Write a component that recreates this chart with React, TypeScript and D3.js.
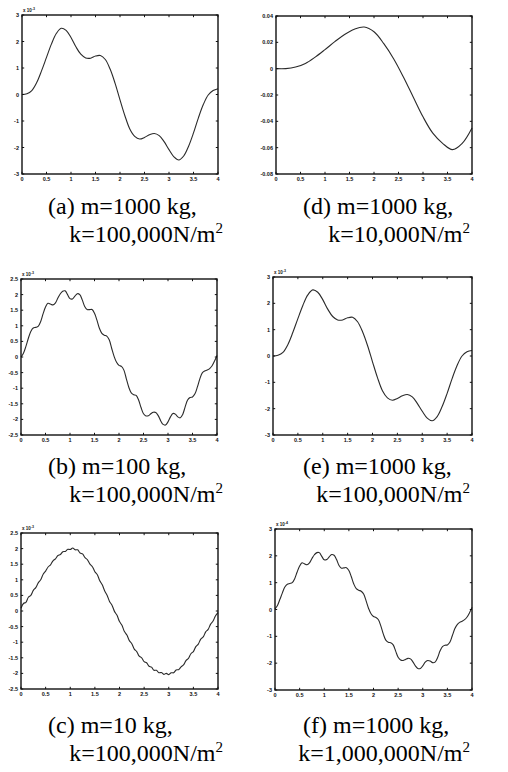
import React from 'react';
import * as d3 from 'd3';

// time axis, same for every panel
const xTicks = [0, 0.5, 1, 1.5, 2, 2.5, 3, 3.5, 4];
const xTickLabels = ['0', '0.5', '1', '1.5', '2', '2.5', '3', '3.5', '4'];

// y tick sets
const ticks3 = [3, 2, 1, 0, -1, -2, -3];
const ticks3Labels = ['3', '2', '1', '0', '-1', '-2', '-3'];
const ticks25 = [2.5, 2, 1.5, 1, 0.5, 0, -0.5, -1, -1.5, -2, -2.5];
const ticks25Labels = ['2.5', '2', '1.5', '1', '0.5', '0', '-0.5', '-1', '-1.5', '-2', '-2.5'];
const ticks004 = [0.04, 0.02, 0, -0.02, -0.04, -0.06, -0.08];
const ticks004Labels = ['0.04', '0.02', '0', '-0.02', '-0.04', '-0.06', '-0.08'];

// sample times
const t01 = d3.range(41).map(i => i * 0.1);
const t02 = d3.range(21).map(i => i * 0.2);
const t005 = d3.range(81).map(i => i * 0.05);

// (a) m=1000, k=100,000  (x1e-3), step 0.1
const respA = [
  0.00, 0.03, 0.15, 0.45, 0.90, 1.40, 1.90, 2.30, 2.50, 2.42,
  2.15, 1.80, 1.52, 1.38, 1.37, 1.45, 1.47, 1.32, 0.95, 0.42,
  -0.20, -0.80, -1.30, -1.58, -1.68, -1.62, -1.52, -1.47, -1.55, -1.78,
  -2.08, -2.35, -2.47, -2.32, -1.95, -1.45, -0.88, -0.38, -0.02, 0.15,
  0.22,
];

// (d) m=1000, k=10,000, step 0.2
const respD = [
  0, 0, 0.0012, 0.004, 0.0088, 0.0145, 0.0205, 0.026, 0.030, 0.0316,
  0.028, 0.019, 0.0076, -0.0063, -0.0215, -0.0366, -0.049, -0.0567, -0.0615, -0.0567,
  -0.045,
];

// (b) m=100, k=100,000 (x1e-3), step 0.05
const respB = [
  0.00, 0.12, 0.34, 0.60, 0.82, 0.93, 0.95, 0.98, 1.13, 1.38,
  1.60, 1.72, 1.70, 1.67, 1.73, 1.88, 2.02, 2.11, 2.12, 2.00,
  1.87, 1.86, 1.95, 2.03, 2.00, 1.83, 1.62, 1.52, 1.52, 1.52,
  1.40, 1.18, 0.92, 0.76, 0.70, 0.67, 0.55, 0.28, 0.02, -0.17,
  -0.27, -0.30, -0.42, -0.70, -0.97, -1.15, -1.21, -1.23, -1.38, -1.62,
  -1.82, -1.89, -1.88, -1.82, -1.77, -1.78, -1.88, -2.04, -2.16, -2.18,
  -2.08, -1.92, -1.81, -1.83, -1.92, -1.95, -1.84, -1.60, -1.38, -1.30,
  -1.28, -1.18, -0.96, -0.70, -0.51, -0.45, -0.42, -0.37, -0.28, -0.13,
  0.05,
];

// (e) m=1000, k=100,000 (x1e-3), step 0.1
const respE = [
  0.00, 0.03, 0.14, 0.44, 0.90, 1.42, 1.92, 2.32, 2.51, 2.42,
  2.14, 1.78, 1.50, 1.37, 1.37, 1.45, 1.47, 1.30, 0.92, 0.40,
  -0.22, -0.82, -1.32, -1.59, -1.68, -1.61, -1.51, -1.46, -1.55, -1.80,
  -2.10, -2.36, -2.46, -2.30, -1.92, -1.42, -0.86, -0.36, 0.00, 0.16,
  0.21,
];

// (c) m=10, k=100,000 (x1e-3), step 0.05
const respC = [
  0.09, 0.24, 0.28, 0.44, 0.50, 0.66, 0.75, 0.90, 1.00, 1.18,
  1.28, 1.41, 1.48, 1.61, 1.67, 1.78, 1.81, 1.90, 1.91, 1.98,
  1.97, 2.02, 1.96, 1.96, 1.86, 1.83, 1.71, 1.64, 1.50, 1.42,
  1.26, 1.16, 0.97, 0.84, 0.64, 0.50, 0.30, 0.18, -0.02, -0.14,
  -0.34, -0.46, -0.66, -0.77, -0.95, -1.05, -1.22, -1.30, -1.45, -1.50,
  -1.62, -1.66, -1.77, -1.80, -1.90, -1.90, -1.98, -1.97, -2.03, -2.00,
  -2.04, -1.98, -1.98, -1.89, -1.88, -1.79, -1.73, -1.59, -1.52, -1.37,
  -1.30, -1.14, -1.06, -0.90, -0.83, -0.67, -0.59, -0.42, -0.32, -0.15,
  -0.05,
];

// (f) m=1000, k=1,000,000 (x1e-4), step 0.05
const respF = [
  0.02, 0.15, 0.38, 0.62, 0.84, 0.94, 0.97, 1.00, 1.15, 1.40,
  1.62, 1.74, 1.70, 1.67, 1.74, 1.90, 2.04, 2.12, 2.12, 1.98,
  1.85, 1.86, 1.96, 2.05, 2.02, 1.86, 1.64, 1.54, 1.55, 1.56,
  1.45, 1.22, 0.95, 0.78, 0.72, 0.68, 0.58, 0.32, 0.04, -0.16,
  -0.26, -0.30, -0.38, -0.62, -0.92, -1.14, -1.22, -1.24, -1.32, -1.55,
  -1.78, -1.88, -1.90, -1.86, -1.82, -1.84, -1.95, -2.10, -2.20, -2.20,
  -2.10, -1.96, -1.90, -1.92, -1.98, -1.96, -1.80, -1.55, -1.38, -1.33,
  -1.32, -1.22, -0.98, -0.72, -0.56, -0.48, -0.44, -0.38, -0.28, -0.12,
  0.08,
];

const captions = [
  ['(a) m=1000 kg,', 'k=100,000N/m'],
  ['(b) m=100 kg,', 'k=100,000N/m'],
  ['(c) m=10 kg,', 'k=100,000N/m'],
  ['(d) m=1000 kg,', 'k=10,000N/m'],
  ['(e) m=1000 kg,', 'k=100,000N/m'],
  ['(f) m=1000 kg,', 'k=1,000,000N/m'],
];

const tickFont = '"Liberation Sans", Arial, sans-serif';
const capFont = '"Liberation Serif", "Times New Roman", serif';

function Panel(props) {
  const { x0, y0, w, h, t, v, yDomain, yTicks, yLabels, exp, caption, capY } = props;
  const x = d3.scaleLinear().domain([0, 4]).range([x0, x0 + w]);
  const y = d3.scaleLinear().domain(yDomain).range([y0 + h, y0]);
  const line = d3.line()
    .x((d, i) => x(t[i]))
    .y(d => y(d))
    .curve(d3.curveCatmullRom);
  const tl = 2.2;
  const colRight = x0 > 200;
  return (
    <g>
      {/* curve */}
      <path d={line(v)} fill="none" stroke="#2a2a2a" strokeWidth={1.1} />
      {/* frame */}
      <rect x={x0} y={y0} width={w} height={h} fill="none" stroke="#111" strokeWidth={1.4} />
      {/* x ticks */}
      {xTicks.map((d, i) => (
        <g key={'x' + i}>
          <line x1={x(d)} x2={x(d)} y1={y0 + h} y2={y0 + h - tl} stroke="#111" strokeWidth={1} />
          <line x1={x(d)} x2={x(d)} y1={y0} y2={y0 + tl} stroke="#111" strokeWidth={1} />
          <text x={x(d)} y={y0 + h + 7} textAnchor="middle" fontSize={5.5} fontWeight="bold"
            fontFamily={tickFont} fill="#111">{xTickLabels[i]}</text>
        </g>
      ))}
      {/* y ticks */}
      {yTicks.map((d, i) => (
        <g key={'y' + i}>
          <line x1={x0} x2={x0 + tl} y1={y(d)} y2={y(d)} stroke="#111" strokeWidth={1} />
          <line x1={x0 + w} x2={x0 + w - tl} y1={y(d)} y2={y(d)} stroke="#111" strokeWidth={1} />
          <text x={x0 - 3} y={y(d) + 2} textAnchor="end" fontSize={5.5} fontWeight="bold"
            fontFamily={tickFont} fill="#111">{yLabels[i]}</text>
        </g>
      ))}
      {exp ? (
        <text x={x0 + 1} y={y0 - 3} fontSize={4.5} fontFamily={tickFont} fontWeight="bold" fill="#111">
          x 10<tspan dy={-2} fontSize={3.5}>{exp}</tspan>
        </text>
      ) : null}
      {/* caption */}
      <text x={colRight ? 303 : 48} y={capY} fontSize={24} fontFamily={capFont} fill="#000">{caption[0]}</text>
      <text x={colRight ? 470 : 223} y={capY + 28} textAnchor="end" fontSize={24} fontFamily={capFont} fill="#000">
        {caption[1]}<tspan dy={-9} fontSize={15}>2</tspan>
      </text>
    </g>
  );
}

export default function App() {
  const L = 21, R = 275, W = 197;
  return (
    <div style={{ position: 'absolute', left: 0, top: 0 }}>
      <svg width={508} height={772} style={{ display: 'block', background: '#fff' }}>
        <Panel x0={L + 1} y0={15} w={W - 1} h={159} t={t01} v={respA} yDomain={[-3, 3]}
          yTicks={ticks3} yLabels={ticks3Labels} exp="-3" caption={captions[0]} capY={214} />
        <Panel x0={R + 1} y0={16} w={W - 1} h={158} t={t02} v={respD} yDomain={[-0.08, 0.04]}
          yTicks={ticks004} yLabels={ticks004Labels} exp={null} caption={captions[3]} capY={214} />
        <Panel x0={L} y0={279} w={W - 1} h={156} t={t005} v={respB} yDomain={[-2.5, 2.5]}
          yTicks={ticks25} yLabels={ticks25Labels} exp="-3" caption={captions[1]} capY={474} />
        <Panel x0={R - 2} y0={277} w={W + 2} h={158} t={t01} v={respE} yDomain={[-3, 3]}
          yTicks={ticks3} yLabels={ticks3Labels} exp="-3" caption={captions[4]} capY={474} />
        <Panel x0={L} y0={533} w={W} h={156} t={t005} v={respC} yDomain={[-2.5, 2.5]}
          yTicks={ticks25} yLabels={ticks25Labels} exp="-3" caption={captions[2]} capY={733} />
        <Panel x0={R} y0={529} w={W} h={161} t={t005} v={respF} yDomain={[-3, 3]}
          yTicks={ticks3} yLabels={ticks3Labels} exp="-4" caption={captions[5]} capY={733} />
      </svg>
    </div>
  );
}
